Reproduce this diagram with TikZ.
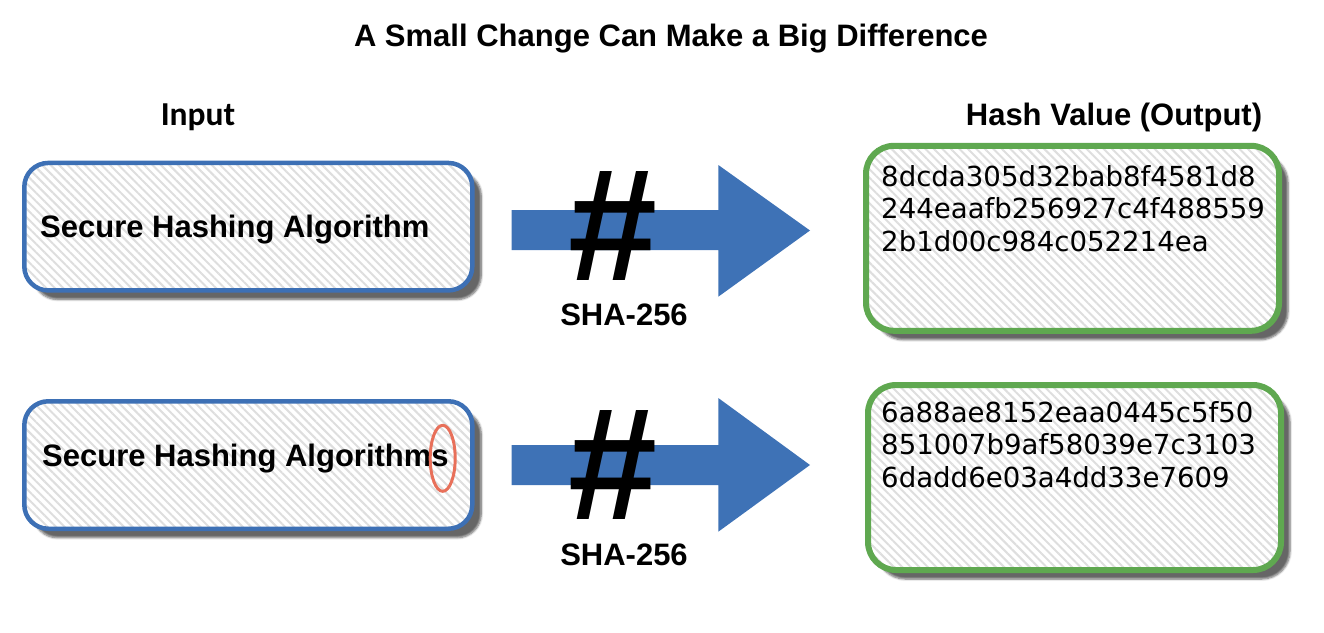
\documentclass[tikz,border=0pt]{standalone}
\usepackage{fontspec}
\setmainfont{Liberation Sans}
\newfontfamily\hashfont{DejaVu Sans}
\newfontfamily\inputfont{Carlito}
\usetikzlibrary{patterns.meta,shadows.blur,shapes.geometric}
\definecolor{boxblue}{RGB}{61,112,181}
\definecolor{arrowblue}{RGB}{62,114,182}
\definecolor{boxgreen}{RGB}{95,168,80}
\definecolor{ringred}{RGB}{232,112,90}
\definecolor{hatch}{RGB}{222,222,222}
\tikzset{
  panelbase/.style={rounded corners=24pt, inner sep=0pt, outer sep=0pt,
    blur shadow={shadow xshift=9pt, shadow yshift=-9pt, shadow blur steps=6, shadow opacity=60},
    preaction={fill=white},
    pattern={Lines[angle=-45,distance=6pt,line width=2pt]}, pattern color=hatch},
  inbox/.style={panelbase, draw=boxblue, line width=4.5pt, minimum width=448pt, minimum height=127.5pt},
  outbox/.style={panelbase, draw=boxgreen, line width=6pt, minimum width=413pt, minimum height=185pt, rounded corners=28pt},
  bigtext/.style={font=\bfseries\fontsize{31}{31}\selectfont, inner sep=0pt},
  inlabel/.style={font=\inputfont\bfseries\fontsize{33.5}{33.5}\selectfont, inner sep=0pt},
  hashtext/.style={font=\hashfont\fontsize{27.6}{32.3}\selectfont, align=left, inner sep=0pt, anchor=north west},
  hashsign/.style={font=\bfseries\fontsize{160}{160}\selectfont, inner sep=0pt},
  flow/.style={fill=arrowblue},
  ring/.style={draw=ringred, line width=3pt, ellipse, inner sep=0pt, minimum width=25pt, minimum height=66pt}
}
\begin{document}
\begin{tikzpicture}[x=1pt,y=-1pt]
\useasboundingbox (0,0) rectangle (1324,632);
% title and headings
\node[bigtext, anchor=base] (title) at (671,46.7) {A Small Change Can Make a Big Difference};
\node[inlabel, anchor=base] (inhead) at (198,125) {Input};
\node[bigtext, anchor=base] (outhead) at (1114,125) {Hash Value (Output)};
% top row
\node[inbox] (in1) at (248.3,226.7) {};
\node[bigtext, anchor=base west] (in1t) at (40,237.3) {Secure Hashing Algorithm};
\fill[flow] (511.7,210) -- (718.3,210) -- (718.3,165) -- (810,230.5) -- (718.3,296.7) -- (718.3,250) -- (511.7,250) -- cycle;
\node[hashsign] (hash1) at (613,226.5) {\#};
\node[bigtext, anchor=base] (sha1) at (624,325) {SHA-256};
\node[outbox] (out1) at (1072.5,238.3) {};
\node[hashtext] (out1t) at (881,165.5) {8dcda305d32bab8f4581d8\\244eaafb256927c4f488559\\2b1d00c984c052214ea};
% bottom row
\node[inbox] (in2) at (248.3,465) {};
\node[bigtext, anchor=base west] (in2t) at (42,466.7) {Secure Hashing Algorithms};
\node[ring] (mark2) at (442.7,458.3) {};
\fill[flow] (511.7,445) -- (718.3,445) -- (718.3,398) -- (810,465) -- (718.3,531.7) -- (718.3,485) -- (511.7,485) -- cycle;
\node[hashsign] (hash2) at (613,465) {\#};
\node[bigtext, anchor=base] (sha2) at (624,565) {SHA-256};
\node[outbox] (out2) at (1074.5,477.5) {};
\node[hashtext] (out2t) at (881,401.5) {6a88ae8152eaa0445c5f50\\851007b9af58039e7c3103\\6dadd6e03a4dd33e7609};
\end{tikzpicture}
\end{document}
